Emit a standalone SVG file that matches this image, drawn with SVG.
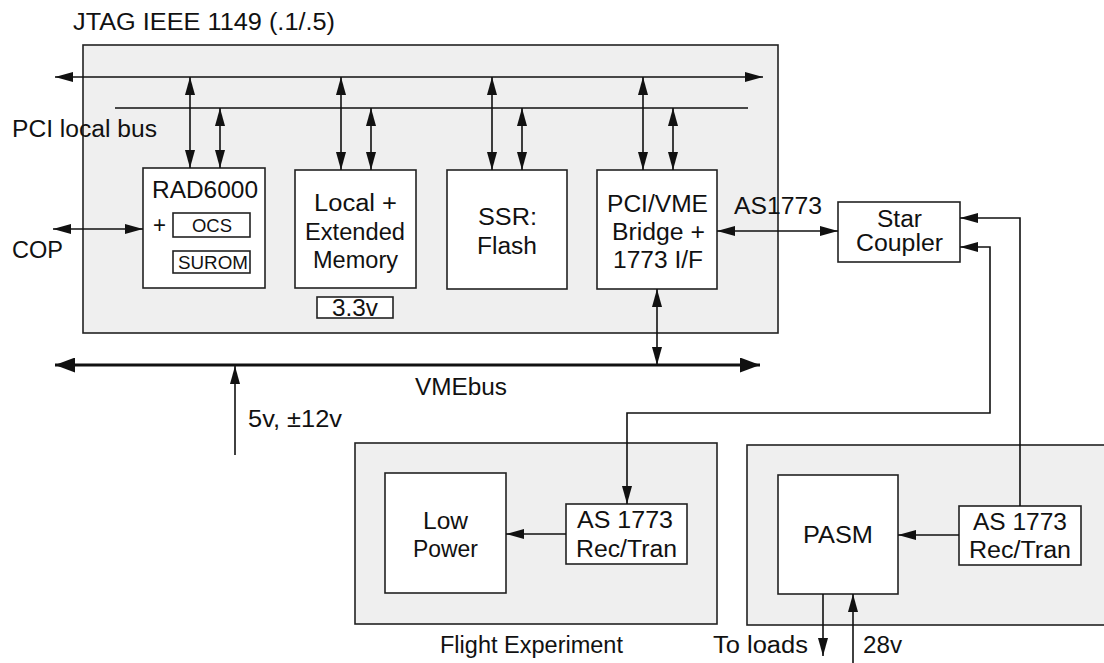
<svg xmlns="http://www.w3.org/2000/svg" width="1104" height="663" viewBox="0 0 1104 663">
<style>
text{font-family:"Liberation Sans",Arial,sans-serif;font-size:23px;fill:#111;}
.sm{font-size:17.5px;}
.panel{fill:#efefef;stroke:#222;stroke-width:1.6;}
.box{fill:#fff;stroke:#222;stroke-width:1.6;}
.ln{fill:none;stroke:#111;stroke-width:1.6;}
.thick{fill:none;stroke:#111;stroke-width:3;}
.dbl{marker-start:url(#ah);marker-end:url(#ah);}
.end{marker-end:url(#ah);}
</style>
<defs>
<marker id="ah" markerUnits="userSpaceOnUse" markerWidth="18" markerHeight="10" refX="18" refY="5" orient="auto-start-reverse" viewBox="0 0 18 10">
<path d="M0,0 L18,5 L0,10 z" fill="#111"/>
</marker>
<marker id="ahb" markerUnits="userSpaceOnUse" markerWidth="20" markerHeight="15" refX="20" refY="7.5" orient="auto-start-reverse" viewBox="0 0 20 15">
<path d="M0,0 L20,7.5 L0,15 z" fill="#111"/>
</marker>
</defs>
<rect width="1104" height="663" fill="#fff"/>

<g id="panels">
<rect id="main-panel" class="panel" x="83" y="45" width="695" height="288"/>
<rect id="flight-panel" class="panel" x="355" y="443" width="362" height="181"/>
<rect id="pasm-panel" class="panel" x="747" y="445" width="370" height="180"/>
</g>

<g id="labels">
<text x="73" y="30" textLength="262" lengthAdjust="spacingAndGlyphs">JTAG IEEE 1149 (.1/.5)</text>
<text x="12" y="137" textLength="145" lengthAdjust="spacingAndGlyphs">PCI local bus</text>
<text x="12" y="258" textLength="51" lengthAdjust="spacingAndGlyphs">COP</text>
<text x="734" y="214" textLength="88" lengthAdjust="spacingAndGlyphs">AS1773</text>
<text x="415" y="395" textLength="92" lengthAdjust="spacingAndGlyphs">VMEbus</text>
<text x="248" y="427" textLength="94" lengthAdjust="spacingAndGlyphs">5v, ±12v</text>
<text x="440" y="653" textLength="183" lengthAdjust="spacingAndGlyphs">Flight Experiment</text>
<text x="713" y="653" textLength="95" lengthAdjust="spacingAndGlyphs">To loads</text>
<text x="863" y="653" textLength="39" lengthAdjust="spacingAndGlyphs">28v</text>
</g>

<g id="rad6000">
<rect class="box" x="143" y="168" width="122" height="120"/>
<text x="152" y="198" textLength="106" lengthAdjust="spacingAndGlyphs">RAD6000</text>
<text x="153" y="233" textLength="13" lengthAdjust="spacingAndGlyphs">+</text>
<rect class="box" x="173" y="213" width="77" height="24" stroke-width="1.3"/>
<text class="sm" x="192" y="232" textLength="40" lengthAdjust="spacingAndGlyphs">OCS</text>
<rect class="box" x="173" y="251" width="77" height="22" stroke-width="1.3"/>
<text class="sm" x="178" y="269" textLength="70" lengthAdjust="spacingAndGlyphs">SUROM</text>
</g>

<g id="memory">
<rect class="box" x="295" y="170" width="121" height="118"/>
<text x="314" y="211" textLength="83" lengthAdjust="spacingAndGlyphs">Local +</text>
<text x="305" y="240" textLength="100" lengthAdjust="spacingAndGlyphs">Extended</text>
<text x="313" y="268" textLength="85" lengthAdjust="spacingAndGlyphs">Memory</text>
</g>

<g id="v33">
<rect class="box" x="317" y="297" width="76" height="21" stroke-width="1.3"/>
<text x="332" y="316" textLength="46" lengthAdjust="spacingAndGlyphs">3.3v</text>
</g>

<g id="ssr">
<rect class="box" x="447" y="170" width="120" height="119"/>
<text x="478" y="225" textLength="59" lengthAdjust="spacingAndGlyphs">SSR:</text>
<text x="477" y="254" textLength="60" lengthAdjust="spacingAndGlyphs">Flash</text>
</g>

<g id="bridge">
<rect class="box" x="597" y="170" width="120" height="119"/>
<text x="607" y="212" textLength="101" lengthAdjust="spacingAndGlyphs">PCI/VME</text>
<text x="612" y="240" textLength="93" lengthAdjust="spacingAndGlyphs">Bridge +</text>
<text x="613" y="268" textLength="90" lengthAdjust="spacingAndGlyphs">1773 I/F</text>
</g>

<g id="star-coupler">
<rect class="box" x="838" y="202" width="122" height="60"/>
<text x="877" y="227" textLength="45" lengthAdjust="spacingAndGlyphs">Star</text>
<text x="856" y="251" textLength="87" lengthAdjust="spacingAndGlyphs">Coupler</text>
</g>

<g id="low-power">
<rect class="box" x="385" y="473" width="121" height="120"/>
<text x="423" y="529" textLength="45" lengthAdjust="spacingAndGlyphs">Low</text>
<text x="413" y="557" textLength="65" lengthAdjust="spacingAndGlyphs">Power</text>
</g>

<g id="rectran-flight">
<rect class="box" x="566" y="504" width="121" height="60"/>
<text x="577" y="528" textLength="96" lengthAdjust="spacingAndGlyphs">AS 1773</text>
<text x="576" y="557" textLength="101" lengthAdjust="spacingAndGlyphs">Rec/Tran</text>
</g>

<g id="pasm">
<rect class="box" x="778" y="475" width="120" height="119"/>
<text x="803" y="543" textLength="70" lengthAdjust="spacingAndGlyphs">PASM</text>
</g>

<g id="rectran-pasm">
<rect class="box" x="959" y="506" width="122" height="59"/>
<text x="973" y="530" textLength="94" lengthAdjust="spacingAndGlyphs">AS 1773</text>
<text x="969" y="558" textLength="102" lengthAdjust="spacingAndGlyphs">Rec/Tran</text>
</g>

<g id="connectors">
<line class="ln dbl" x1="55" y1="77" x2="763" y2="77"/>
<line class="ln" x1="115" y1="108" x2="748" y2="108"/>
<line class="ln dbl" x1="190" y1="77" x2="190" y2="168"/>
<line class="ln dbl" x1="220" y1="108" x2="220" y2="168"/>
<line class="ln dbl" x1="341" y1="77" x2="341" y2="170"/>
<line class="ln dbl" x1="371" y1="108" x2="371" y2="170"/>
<line class="ln dbl" x1="492" y1="77" x2="492" y2="170"/>
<line class="ln dbl" x1="522" y1="108" x2="522" y2="170"/>
<line class="ln dbl" x1="643" y1="77" x2="643" y2="170"/>
<line class="ln dbl" x1="673" y1="108" x2="673" y2="170"/>
<line class="ln dbl" x1="53" y1="229" x2="143" y2="229"/>
<line class="ln dbl" x1="717" y1="231" x2="838" y2="231"/>
<line class="ln dbl" x1="657" y1="289" x2="657" y2="365"/>
<line class="thick" x1="55" y1="365" x2="760" y2="365" marker-start="url(#ahb)" marker-end="url(#ahb)"/>
<line class="ln end" x1="235" y1="455" x2="235" y2="366"/>
<path class="ln dbl" d="M960,247 H990 V413 H627 V504"/>
<path class="ln end" d="M1020,506 V218 H960"/>
<line class="ln end" x1="566" y1="534" x2="506" y2="534"/>
<line class="ln end" x1="959" y1="535" x2="898" y2="535"/>
<line class="ln end" x1="823" y1="594" x2="823" y2="656"/>
<line class="ln end" x1="853" y1="663" x2="853" y2="594"/>
</g>
</svg>
